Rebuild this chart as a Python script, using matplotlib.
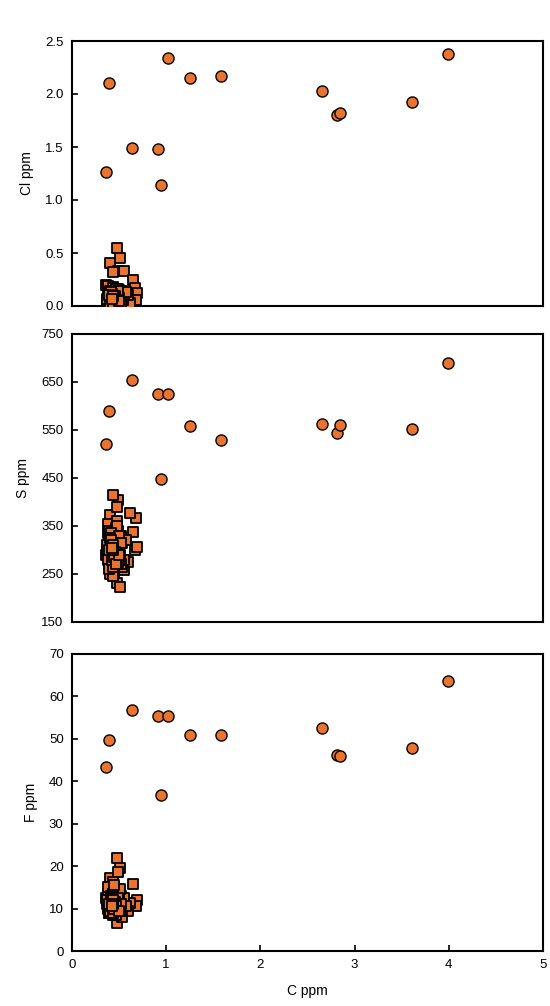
import matplotlib
matplotlib.use("Agg")
import matplotlib.pyplot as plt

plt.rcParams['font.family'] = ['Liberation Sans', 'DejaVu Sans']

# ---- circle group (13 samples) ----
C_circ = [0.36, 0.39, 0.64, 0.91, 0.94, 1.02, 1.25, 1.58, 2.65, 2.81, 2.84, 3.61, 3.99]
Cl_circ = [1.26, 2.10, 1.49, 1.48, 1.14, 2.34, 2.15, 2.17, 2.03, 1.80, 1.82, 1.92, 2.38]
S_circ = [520, 590, 655, 625, 447, 625, 558, 530, 562, 544, 560, 553, 689]
F_circ = [43.4, 49.7, 56.9, 55.5, 36.8, 55.5, 50.9, 50.9, 52.6, 46.2, 45.9, 47.8, 63.6]

# ---- square group ----
C_sq = [0.48, 0.51, 0.40, 0.49, 0.44, 0.55, 0.65, 0.67, 0.69, 0.68, 0.62, 0.59, 0.48, 0.36,
        0.37, 0.38, 0.39, 0.40, 0.41, 0.42, 0.43, 0.44, 0.45, 0.46, 0.47, 0.48, 0.49, 0.50,
        0.51, 0.52, 0.53, 0.54, 0.55, 0.38, 0.40, 0.42, 0.44, 0.46, 0.48, 0.50, 0.52, 0.39,
        0.41, 0.43, 0.45, 0.47, 0.49, 0.51, 0.53, 0.40, 0.42, 0.44, 0.46, 0.48, 0.43, 0.45,
        0.47, 0.41, 0.44, 0.57,
        0.38, 0.40, 0.42, 0.44, 0.46, 0.48, 0.50, 0.39, 0.41, 0.43, 0.45, 0.47, 0.49, 0.37,
        0.40, 0.43, 0.46, 0.49, 0.52, 0.42, 0.44, 0.46, 0.41, 0.45, 0.39, 0.47, 0.43, 0.50,
        0.44, 0.42]
Cl_sq = [0.55, 0.45, 0.41, 0.33, 0.32, 0.33, 0.25, 0.17, 0.12, 0.06, 0.03, 0.10, 0.08, 0.20,
         0.05, 0.12, 0.03, 0.15, 0.08, 0.02, 0.10, 0.18, 0.06, 0.13, 0.04, 0.09, 0.16, 0.07,
         0.11, 0.03, 0.14, 0.06, 0.10, 0.19, 0.08, 0.13, 0.04, 0.11, 0.07, 0.15, 0.05, 0.09,
         0.02, 0.17, 0.12, 0.06, 0.03, 0.10, 0.08, 0.14, 0.05, 0.07, 0.02, 0.12, 0.09, 0.04,
         0.16, 0.06, 0.11, 0.13,
         0.03, 0.06, 0.09, 0.12, 0.02, 0.05, 0.08, 0.11, 0.04, 0.07, 0.10, 0.01, 0.14, 0.07,
         0.03, 0.06, 0.09, 0.04, 0.02, 0.11, 0.05, 0.08, 0.13, 0.03, 0.10, 0.06, 0.02, 0.05,
         0.09, 0.07]
S_sq = [231, 223, 373, 404, 414, 258, 337, 300, 306, 367, 377, 275, 390, 290,
        300, 335, 270, 310, 350, 285, 325, 260, 345, 295, 315, 275, 340, 305,
        290, 330, 265, 320, 280, 355, 250, 300, 325, 285, 360, 310, 270, 340,
        295, 320, 255, 345, 305, 280, 315, 290, 330, 265, 300, 350, 275, 310,
        285, 335, 245, 320,
        280, 300, 320, 290, 310, 270, 330, 260, 305, 285, 315, 295, 275, 310,
        325, 265, 300, 290, 315, 280, 305, 295, 320, 285, 300, 270, 310, 290,
        300, 305]
F_sq = [21.9, 19.6, 17.2, 18.6, 16.3, 12.0, 15.8, 10.8, 12.0, 10.5, 11.2, 9.5, 6.6, 12.5,
        11.0, 13.5, 9.0, 12.0, 14.5, 10.0, 12.5, 8.5, 13.0, 10.5, 11.5, 9.5, 14.0, 12.0,
        10.0, 13.0, 8.0, 11.5, 12.5, 15.0, 9.0, 11.0, 13.5, 10.5, 14.0, 12.0, 9.5, 11.0,
        13.0, 10.0, 12.5, 8.5, 11.5, 14.5, 10.5, 12.0, 9.0, 13.5, 11.0, 10.0, 12.0, 15.5,
        9.5, 11.5, 13.0, 10.5,
        10.0, 11.5, 12.5, 9.5, 11.0, 10.5, 12.0, 9.0, 10.5, 11.5, 12.5, 10.0, 11.0, 12.0,
        9.5, 11.0, 10.0, 12.5, 11.0, 10.5, 9.0, 11.5, 12.0, 10.0, 11.0, 10.5, 12.0, 9.5,
        11.0, 10.5]

x_ticks = [0, 1, 2, 3, 4, 5]
cl_ticks = [0.0, 0.5, 1.0, 1.5, 2.0, 2.5]
s_ticks = [150, 250, 350, 450, 550, 650, 750]
f_ticks = [0, 10, 20, 30, 40, 50, 60, 70]

ORANGE = '#E8742F'

fig = plt.figure(figsize=(5.5, 10.06), dpi=100)
W, H = 550.0, 1006.0
left, right = 72, 543
panels = [
    (41, 306, Cl_sq, Cl_circ, cl_ticks, 'Cl ppm', '{:.1f}'),
    (334, 622, S_sq, S_circ, s_ticks, 'S ppm', '{:.0f}'),
    (654, 951, F_sq, F_circ, f_ticks, 'F ppm', '{:.0f}'),
]

for i, (top, bot, ysq, ycirc, yt, lab, fmt) in enumerate(panels):
    ax = fig.add_axes([left / W, 1 - bot / H, (right - left) / W, (bot - top) / H])
    ax.scatter(C_sq, ysq, marker='s', s=52, facecolor=ORANGE, edgecolor='black',
               linewidth=1.3, zorder=3)
    ax.scatter(C_circ, ycirc, marker='o', s=64, facecolor=ORANGE, edgecolor='black',
               linewidth=1.0, zorder=3)
    ax.set_xlim(x_ticks[0], x_ticks[-1])
    ax.set_ylim(yt[0], yt[-1])
    ax.set_yticks(yt)
    ax.set_yticklabels([fmt.format(v) for v in yt])
    ax.set_xticks(x_ticks)
    for sp in ax.spines.values():
        sp.set_linewidth(1.5)
    ax.tick_params(direction='in', length=4, width=1.2, labelsize=9.5, pad=6)
    if i < 2:
        ax.tick_params(axis='x', bottom=False, labelbottom=False)
    else:
        ax.set_xticklabels([str(v) for v in x_ticks])
        ax.set_xlabel('C ppm', fontsize=10, labelpad=9)
    ax.set_ylabel(lab, fontsize=10, labelpad=8)

fig.savefig('out.png', dpi=100)
